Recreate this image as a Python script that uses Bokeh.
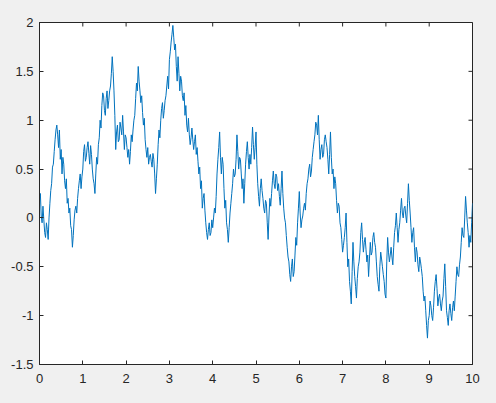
import math
from bokeh.plotting import figure
from bokeh.models import Range1d, LinearAxis, FixedTicker, NumeralTickFormatter
from bokeh.embed import file_html
from bokeh.resources import INLINE

x_ticks = [0, 1, 2, 3, 4, 5, 6, 7, 8, 9, 10]
y_ticks = [-1.5, -1, -0.5, 0, 0.5, 1, 1.5, 2]
dt = 0.02

walk = [
    # 0.00 - 0.98
    0.18, 0.25, 0.02, -0.05, 0.12, -0.02, -0.15, -0.20, -0.05, -0.12,
    -0.22, 0.00, 0.15, 0.28, 0.35, 0.52, 0.55, 0.68, 0.80, 0.90,
    0.95, 0.85, 0.72, 0.90, 0.60, 0.70, 0.45, 0.62, 0.55, 0.38,
    0.30, 0.40, 0.15, 0.20, 0.05, 0.10, -0.08, -0.12, -0.30, -0.18,
    -0.02, 0.08, 0.12, 0.05, 0.20, 0.30, 0.38, 0.45, 0.30, 0.42,
    # 1.00 - 1.98
    0.50, 0.68, 0.75, 0.58, 0.62, 0.72, 0.78, 0.66, 0.55, 0.74,
    0.65, 0.50, 0.40, 0.35, 0.25, 0.45, 0.62, 0.55, 0.75, 0.82,
    1.00, 0.92, 1.15, 1.28, 1.25, 1.10, 1.05, 1.22, 1.30, 1.12,
    1.20, 1.30, 1.35, 1.48, 1.65, 1.50, 1.30, 1.05, 0.70, 0.88,
    0.95, 0.78, 0.80, 0.98, 0.92, 0.85, 1.05, 0.88, 0.70, 0.85,
    # 2.00 - 2.98
    0.82, 0.72, 0.62, 0.70, 0.55, 0.68, 0.85, 0.78, 0.90, 1.00,
    1.05, 1.22, 1.38, 1.30, 1.55, 1.40, 1.30, 1.18, 1.25, 1.08,
    0.95, 1.02, 0.80, 0.70, 0.62, 0.72, 0.55, 0.62, 0.65, 0.58,
    0.52, 0.66, 0.60, 0.45, 0.25, 0.40, 0.55, 0.75, 0.90, 0.82,
    1.00, 1.12, 1.18, 1.02, 1.10, 1.20, 1.25, 1.35, 1.45, 1.32,
    # 3.00 - 3.98
    1.62, 1.70, 1.80, 1.88, 1.97, 1.85, 1.72, 1.78, 1.55, 1.40,
    1.65, 1.48, 1.30, 1.45, 1.40, 1.25, 1.20, 1.28, 1.05, 1.15,
    0.95, 0.88, 1.02, 0.85, 0.75, 0.82, 0.92, 0.80, 0.70, 0.78,
    0.85, 0.65, 0.72, 0.58, 0.45, 0.52, 0.30, 0.38, 0.10, 0.20,
    0.25, 0.08, -0.05, -0.15, -0.22, -0.12, -0.05, -0.18, -0.15, -0.02,
    # 4.00 - 4.98
    -0.10, 0.00, 0.10, 0.05, 0.22, 0.45, 0.60, 0.72, 0.88, 0.62,
    0.45, 0.62, 0.55, 0.30, 0.10, 0.18, -0.05, -0.12, -0.25, -0.10,
    0.05, 0.15, 0.25, 0.35, 0.50, 0.42, 0.45, 0.60, 0.85, 0.68,
    0.50, 0.62, 0.60, 0.45, 0.30, 0.40, 0.15, 0.35, 0.55, 0.68,
    0.78, 0.62, 0.50, 0.65, 0.55, 0.72, 0.93, 0.75, 0.60, 0.72,
    # 5.00 - 5.98
    0.88, 0.55, 0.35, 0.22, 0.12, 0.30, 0.40, 0.28, 0.20, 0.10,
    0.05, 0.18, 0.15, -0.05, -0.22, 0.02, 0.20, 0.12, 0.25, 0.38,
    0.48, 0.35, 0.30, 0.45, 0.42, 0.28, 0.35, 0.22, 0.13, 0.30,
    0.48, 0.25, 0.10, 0.00, -0.05, -0.18, -0.30, -0.40, -0.45, -0.58,
    -0.65, -0.50, -0.42, -0.60, -0.55, -0.38, -0.20, -0.28, -0.05, 0.10,
    # 6.00 - 6.98
    0.27, 0.05, -0.10, -0.02, 0.02, 0.10, 0.15, 0.08, 0.25, 0.35,
    0.40, 0.50, 0.55, 0.42, 0.48, 0.62, 0.70, 0.78, 0.85, 0.98,
    0.95, 0.85, 1.05, 0.80, 0.60, 0.70, 0.75, 0.62, 0.65, 0.80,
    0.85, 0.78, 0.72, 0.60, 0.45, 0.65, 0.88, 0.62, 0.45, 0.50,
    0.30, 0.42, 0.35, 0.18, 0.05, 0.15, 0.12, -0.05, -0.10, -0.22,
    # 7.00 - 7.98
    -0.35, -0.28, -0.20, -0.10, 0.05, -0.25, -0.50, -0.42, -0.65, -0.75,
    -0.88, -0.55, -0.25, -0.45, -0.60, -0.70, -0.82, -0.62, -0.50, -0.45,
    -0.35, -0.15, -0.05, -0.22, -0.35, -0.25, -0.20, -0.32, -0.45, -0.38,
    -0.60, -0.42, -0.25, -0.38, -0.35, -0.20, -0.15, -0.25, -0.30, -0.45,
    -0.60, -0.68, -0.75, -0.50, -0.35, -0.42, -0.50, -0.58, -0.65, -0.78,
    # 8.00 - 8.98
    -0.82, -0.45, -0.20, -0.35, -0.45, -0.38, -0.30, -0.40, -0.48, -0.30,
    -0.15, -0.08, 0.05, -0.10, -0.25, -0.12, -0.05, 0.08, 0.20, 0.05,
    0.00, 0.10, 0.12, 0.02, -0.05, 0.15, 0.35, 0.18, 0.05, -0.10,
    -0.25, -0.15, -0.10, -0.30, -0.45, -0.30, -0.35, -0.48, -0.55, -0.40,
    -0.45, -0.52, -0.60, -0.75, -0.85, -0.80, -0.95, -1.10, -1.23, -1.05,
    # 9.00 - 10.00
    -1.00, -0.85, -0.90, -1.00, -1.05, -0.92, -0.75, -0.65, -0.58, -0.72,
    -0.90, -0.82, -0.78, -0.88, -0.95, -0.85, -0.80, -0.62, -0.47, -0.70,
    -0.95, -1.02, -1.10, -0.95, -0.88, -0.98, -1.05, -0.92, -0.85, -0.95,
    -0.80, -0.65, -0.50, -0.58, -0.60, -0.48, -0.40, -0.25, -0.10, -0.18,
    -0.20, 0.00, 0.22, 0.08, -0.05, -0.15, -0.30, -0.18, -0.25, -0.05,
    0.15,
]
t = [i * dt for i in range(len(walk))]

x_min, x_max = x_ticks[0], x_ticks[-1]
y_min, y_max = y_ticks[0], y_ticks[-1]

axis_color = "#262626"
line_color = "#0072BD"
font = "Liberation Sans"

p = figure(width=496, height=403, output_backend="svg", toolbar_location=None,
           x_range=Range1d(x_min, x_max), y_range=Range1d(y_min, y_max),
           x_axis_location=None, y_axis_location=None,
           min_border_left=39, min_border_right=24, min_border_top=22, min_border_bottom=39,
           background_fill_color="white", border_fill_color="#f0f0f0")
p.grid.visible = False
p.outline_line_color = axis_color

p.line(t, walk, line_color=line_color, line_width=1)


def make_axis(ticks, standoff):
    ax = LinearAxis(ticker=FixedTicker(ticks=ticks),
                    formatter=NumeralTickFormatter(format="0.[0]"))
    ax.axis_line_color = axis_color
    ax.major_tick_line_color = axis_color
    ax.major_tick_in = 4
    ax.major_tick_out = 0
    ax.minor_tick_line_color = None
    ax.major_label_text_font = font
    ax.major_label_text_color = axis_color
    ax.major_label_text_font_size = "13px"
    ax.major_label_standoff = standoff
    return ax


p.add_layout(make_axis(x_ticks, 9), "below")
p.add_layout(make_axis(y_ticks, 6), "left")

# inward ticks on the top and right edges of the box (half of each dash is clipped by the frame)
p.scatter(x_ticks, [y_max] * len(x_ticks), marker="dash", size=8, angle=math.pi / 2,
          line_color=axis_color, line_width=1)
p.scatter([x_max] * len(y_ticks), y_ticks, marker="dash", size=8,
          line_color=axis_color, line_width=1)

html = file_html(p, INLINE)
html = html.replace("<head>", "<head><style>html, body {margin: 0; background: #f0f0f0; overflow: hidden;}</style>", 1)
open("out.html", "w").write(html)
